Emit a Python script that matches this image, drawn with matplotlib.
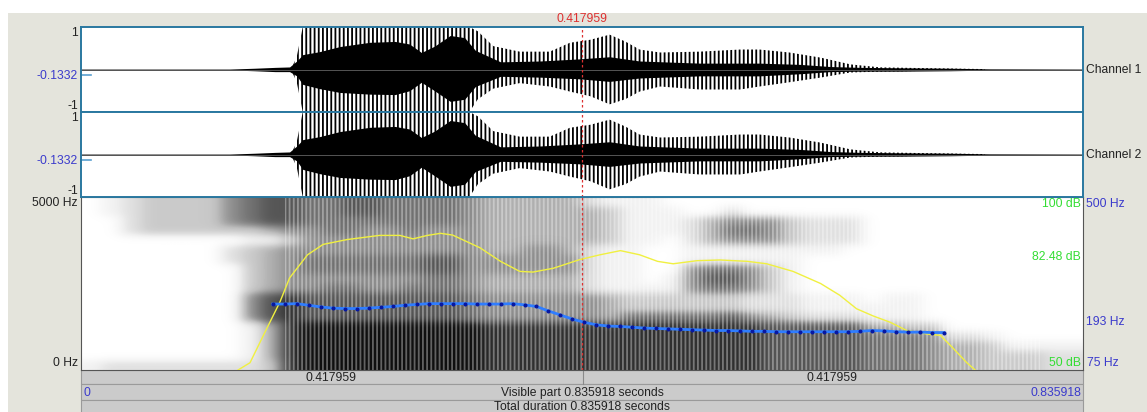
import numpy as np
import matplotlib
matplotlib.use("Agg")
import matplotlib.pyplot as plt

plt.rcParams['font.family'] = ['Liberation Sans', 'DejaVu Sans']
plt.rcParams['hatch.linewidth'] = 1.3

W, H = 1147, 412
duration = 0.835918
cursor_t = 0.417959
cursor_value = -0.1332

# waveform envelope (same for both channels), seconds / amplitude
env_t = [0.0, 0.124, 0.145, 0.162, 0.174, 0.180, 0.185, 0.199, 0.216, 0.241,
         0.262, 0.274, 0.284, 0.295, 0.308, 0.320, 0.329, 0.350, 0.383, 0.416,
         0.441, 0.466, 0.516, 0.566, 0.600, 0.625, 0.650, 0.683, 0.725, 0.758, 0.836]
body_up = [0.01, 0.01, 0.03, 0.05, 0.06, 0.20, 0.35, 0.42, 0.54, 0.64,
           0.66, 0.60, 0.40, 0.55, 0.80, 0.75, 0.45, 0.18, 0.20, 0.25,
           0.30, 0.20, 0.15, 0.15, 0.12, 0.07, 0.05, 0.04, 0.03, 0.015, 0.01]
body_lo = [0.01, 0.01, 0.03, 0.05, 0.05, 0.15, 0.35, 0.45, 0.54, 0.58,
           0.59, 0.50, 0.30, 0.50, 0.75, 0.70, 0.40, 0.16, 0.18, 0.22,
           0.28, 0.20, 0.15, 0.15, 0.10, 0.05, 0.04, 0.04, 0.03, 0.015, 0.01]

peak_t = [0.176, 0.180, 0.185, 0.324, 0.331, 0.344, 0.366, 0.391, 0.408, 0.425,
          0.441, 0.454, 0.466, 0.483, 0.516, 0.550, 0.566, 0.591, 0.617, 0.642,
          0.667, 0.708, 0.754]
peak_up = [0.05, 0.30, 1.0, 1.0, 0.90, 0.55, 0.42, 0.42, 0.63, 0.70,
           0.82, 0.66, 0.47, 0.40, 0.42, 0.47, 0.47, 0.40, 0.28, 0.12,
           0.05, 0.03, 0.01]
peak_lo = [0.05, 0.30, 1.0, 1.0, 0.70, 0.45, 0.32, 0.40, 0.52, 0.63,
           0.82, 0.70, 0.52, 0.40, 0.47, 0.47, 0.40, 0.30, 0.19, 0.07,
           0.05, 0.03, 0.01]

# spectrogram darkness 0-9, one string per 20 px time column, top (5000 Hz) -> bottom (0 Hz)
spec_cols = [
    "000000000000000001", "110000000000000002", "222200000000000002", "333300000000000002",
    "333300000000000002", "333300000000000002", "333300000000000002", "555302200000000002",
    "666313333355511112", "777414444477744443", "777535555588888888", "666555665577799999",
    "666655665677799999", "776655665677799999", "776555665577799999", "666555665577799999",
    "666655665677799999", "666555776677799999", "666555776677799999", "555555555566699999",
    "444444554455588888", "444444554455588888", "444445554455588888", "444445554455588888",
    "444444554455588888", "244442222255588888", "133331111144488888", "111111111133688888",
    "111110000133688888", "011100001133688888", "002221155533688888", "004441167633688888",
    "025651167633788888", "005651155522588888", "005551133322477777", "003331111122377777",
    "002221000011277777", "002221000011277777", "002220000011277777", "000000000001146666",
    "000000000011146666", "000000000011136666", "000000000000035555", "000000000000002444",
    "000000000000002444", "000000000000001333", "000000000000000133", "000000000000000133",
    "000000000000000122", "000000000000000122",
]

# pitch (Hz) every 0.01 s from 0.16 s
pitch_t = [0.16, 0.17, 0.18, 0.19, 0.20, 0.21, 0.22, 0.23, 0.24, 0.25,
           0.26, 0.27, 0.28, 0.29, 0.30, 0.31, 0.32, 0.33, 0.34, 0.35,
           0.36, 0.37, 0.38, 0.39, 0.40, 0.41, 0.42, 0.43, 0.44, 0.45,
           0.46, 0.47, 0.48, 0.49, 0.50, 0.51, 0.52, 0.53, 0.54, 0.55,
           0.56, 0.57, 0.58, 0.59, 0.60, 0.61, 0.62, 0.63, 0.64, 0.65,
           0.66, 0.67, 0.68, 0.69, 0.70, 0.71, 0.72]
pitch_hz = [237, 237, 238, 234, 230, 227, 226, 226, 227, 229,
            231, 234, 236, 238, 238, 238, 238, 237, 237, 237,
            238, 235, 231, 220, 210, 200, 192, 186, 183, 182,
            180, 178, 177, 176, 175, 174, 173, 172, 172, 171,
            170, 170, 169, 169, 169, 169, 169, 169, 169, 170,
            172, 171, 169, 168, 168, 167, 167]

# intensity (dB)
int_t = [0.125, 0.131, 0.141, 0.155, 0.166, 0.174, 0.189, 0.202, 0.222, 0.249,
         0.266, 0.277, 0.289, 0.300, 0.310, 0.333, 0.350, 0.366, 0.377, 0.394,
         0.416, 0.433, 0.450, 0.466, 0.481, 0.494, 0.514, 0.533, 0.556, 0.572,
         0.594, 0.617, 0.633, 0.647, 0.661, 0.675, 0.689, 0.706, 0.717, 0.727,
         0.739, 0.746, 0.752]
int_db = [48.0, 50.0, 52.1, 62.0, 69.7, 76.6, 83.3, 86.3, 87.7, 88.9,
          88.9, 87.9, 88.9, 89.5, 89.0, 85.3, 81.4, 78.5, 78.3, 79.4,
          81.9, 83.3, 84.5, 83.3, 81.4, 80.7, 81.6, 81.8, 81.4, 80.7,
          78.5, 75.0, 71.6, 67.7, 65.6, 63.8, 61.4, 60.4, 60.0, 56.5,
          52.1, 50.0, 48.0]

beige = '#e4e4dc'
bar_grey = '#cbcbcb'
frame_blue = '#2a78a0'
lab_blue = '#3a3acc'
lab_green = '#33dd33'
lab_red = '#dd3030'
fs = 8.7


def px_axes(fig, x0, y0, x1, y1, **kw):
    return fig.add_axes([x0 / W, 1 - y1 / H, (x1 - x0) / W, (y1 - y0) / H], **kw)


fig = plt.figure(figsize=(W / 100, H / 100), dpi=100)
fig.patch.set_facecolor('white')

# window background
bg = px_axes(fig, 0, 0, W, H, zorder=0)
bg.set_xlim(0, W)
bg.set_ylim(H, 0)
bg.axis('off')
bg.add_patch(plt.Rectangle((8, 13), W - 8, H - 13, color=beige, lw=0))
for y0, y1 in [(370, 384), (384, 400), (400, 413)]:
    bg.add_patch(plt.Rectangle((81, y0), 1002, y1 - y0, facecolor=bar_grey,
                               edgecolor='#9a9a9a', lw=0.8))
bg.plot([582.5, 582.5], [370, 384], color='#8a8a8a', lw=0.8)

# waveform channels
for y0, y1 in [(27, 112), (112, 197)]:
    ax = px_axes(fig, 81, y0, 1083, y1, zorder=2)
    ax.set_xlim(0, duration)
    ax.set_ylim(-1, 1)
    ax.set_xticks([])
    ax.set_yticks([])
    ax.set_facecolor('white')
    for s in ax.spines.values():
        s.set_color(frame_blue)
        s.set_linewidth(1.4)
    ax.plot([0, duration], [0, 0], color='#555555', lw=0.7)
    ax.fill_between(env_t, body_up, [-v for v in body_lo], color='black', lw=0)
    ax.fill_between(peak_t, peak_up, [-v for v in peak_lo], facecolor='none',
                    edgecolor='black', hatch='||||', lw=0)
    ax.plot([0, 0.008], [cursor_value, cursor_value], color='#5aa0d0', lw=1.2, clip_on=False)
    ax.axvline(cursor_t, color=lab_red, lw=0.9, ls=(0, (2, 2)))

# spectrogram
spec = px_axes(fig, 81, 197, 1083, 370, zorder=1)
grid = np.array([[int(c) for c in col] for col in spec_cols]).T
spec.imshow(grid, cmap='Greys', vmin=0, vmax=9.5, aspect='auto',
            extent=[0, duration, 0, 5000], origin='upper', interpolation='gaussian')
spec.fill_between([0.17, 0.80], [0, 0], [5000, 5000], facecolor='none',
                  edgecolor=(1, 1, 1, 0.35), hatch='||||', lw=0)
spec.set_xlim(0, duration)
spec.set_ylim(0, 5000)
spec.set_xticks([])
spec.set_yticks([])
for s in spec.spines.values():
    s.set_color('#555555')
    s.set_linewidth(0.8)
spec.axvline(cursor_t, color=lab_red, lw=0.9, ls=(0, (2, 2)))

ax_int = px_axes(fig, 81, 197, 1083, 370, zorder=3)
ax_int.patch.set_alpha(0)
ax_int.axis('off')
ax_int.set_xlim(0, duration)
ax_int.set_ylim(50, 100)
ax_int.plot(int_t, int_db, color='#f0f040', lw=1.0)

ax_p = px_axes(fig, 81, 197, 1083, 370, zorder=4)
ax_p.patch.set_alpha(0)
ax_p.axis('off')
ax_p.set_xlim(0, duration)
ax_p.set_ylim(75, 500)
ax_p.plot(pitch_t, pitch_hz, color='#2f7dff', lw=2.0)
ax_p.plot(pitch_t, pitch_hz, ls='none', marker='o', ms=1.9, mfc='#0818a0', mec='#0818a0')

# text layer
tx = px_axes(fig, 0, 0, W, H, zorder=10)
tx.set_xlim(0, W)
tx.set_ylim(H, 0)
tx.axis('off')
tx.patch.set_alpha(0)


def label(x, y, s, ha='left', color='#222222'):
    tx.text(x, y, s, ha=ha, va='center', fontsize=fs, color=color)


label(582, 19, '0.417959', 'center', lab_red)
for top in (27, 112):
    label(78, top + 6, '1', 'right')
    label(78, top + 49, '-0.1332', 'right', lab_blue)
    label(78, top + 79, '-1', 'right')
label(1086, 70, 'Channel 1')
label(1086, 155, 'Channel 2')
label(78, 203, '5000 Hz', 'right')
label(78, 363, '0 Hz', 'right')
label(1081, 204, '100 dB', 'right', lab_green)
label(1081, 257, '82.48 dB', 'right', lab_green)
label(1081, 363, '50 dB', 'right', lab_green)
label(1086, 204, '500 Hz', 'left', lab_blue)
label(1086, 322, '193 Hz', 'left', lab_blue)
label(1087, 363, '75 Hz', 'left', lab_blue)
label(331, 378, '0.417959', 'center')
label(832, 378, '0.417959', 'center')
label(84, 393, '0', 'left', lab_blue)
label(582, 393, 'Visible part 0.835918 seconds', 'center')
label(1081, 393, '0.835918', 'right', lab_blue)
label(582, 407, 'Total duration 0.835918 seconds', 'center')

fig.savefig('out.png', dpi=100)
